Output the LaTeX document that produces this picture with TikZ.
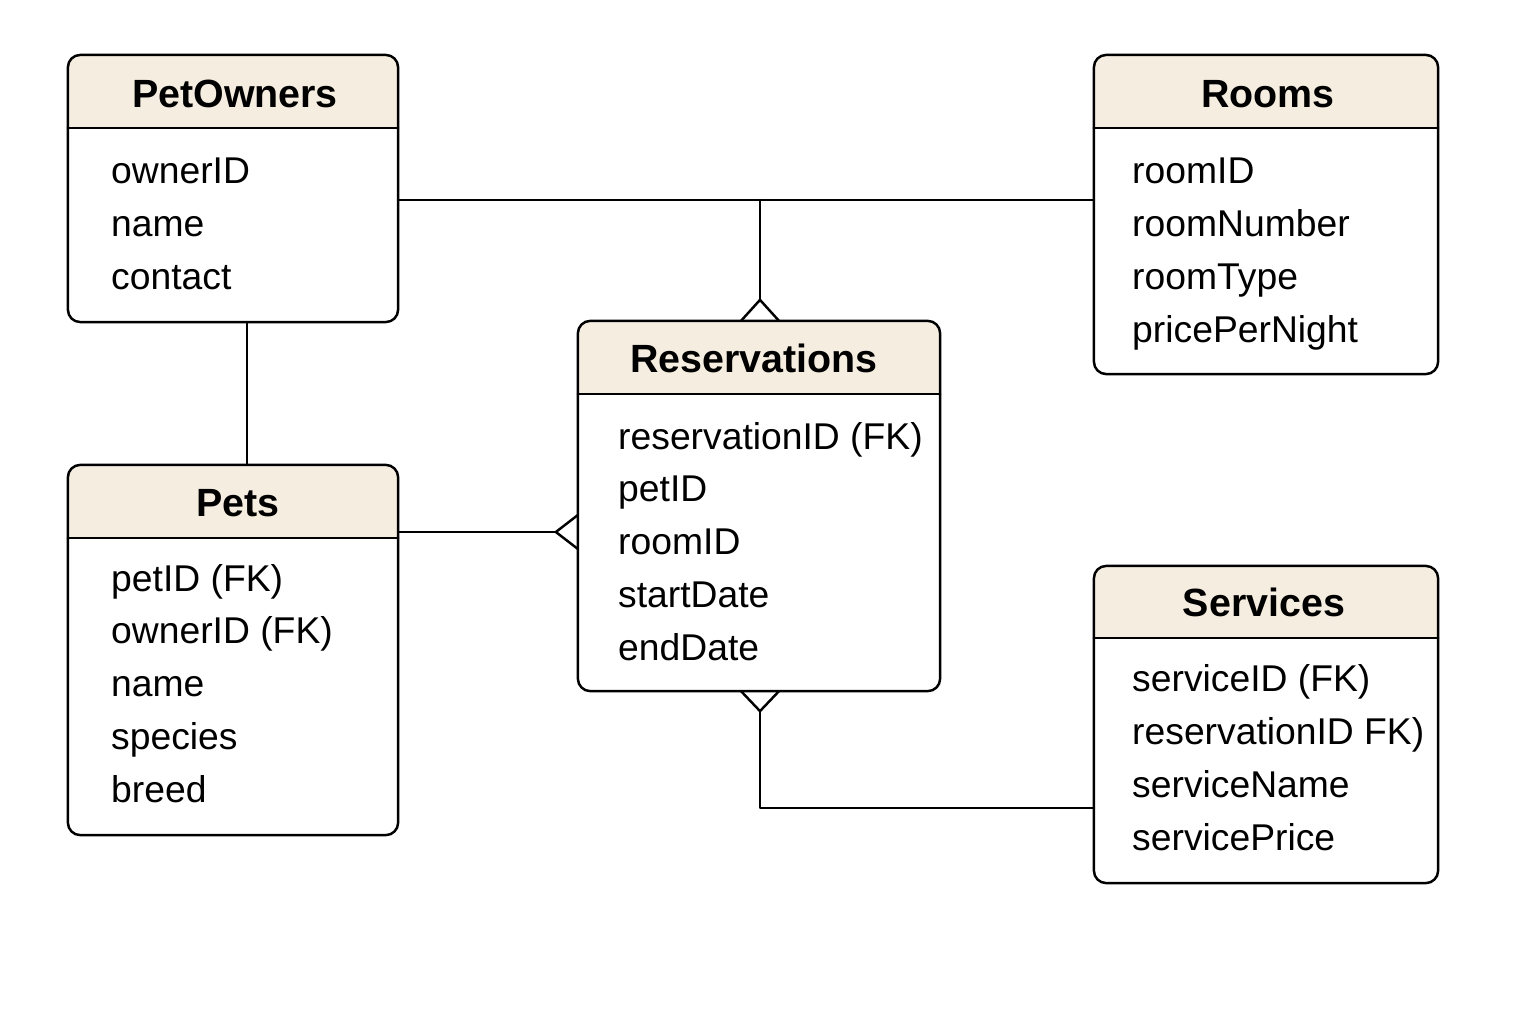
\documentclass[tikz,border=0pt]{standalone}
\usepackage{fontspec}
\setmainfont{Liberation Sans}
\definecolor{hdrcream}{RGB}{245,237,224}
\begin{document}
\begin{tikzpicture}[x=0.01cm, y=-0.01cm, line width=0.7pt, line join=round, line cap=round,
	tbl/.style={inner sep=0pt, outer sep=0pt},
	hdr/.style={inner sep=0pt, anchor=base, font=\fontsize{11.2pt}{13pt}\selectfont\bfseries},
	attr/.style={inner sep=0pt, anchor=base west, font=\fontsize{10.6pt}{12pt}\selectfont}]
	\useasboundingbox (0,0) rectangle (1536,1024);
	% tables
	\node[tbl, minimum width=3.30cm, minimum height=2.67cm] (own) at (233,188.5) {};
	\node[tbl, minimum width=3.44cm, minimum height=3.19cm] (room) at (1266,214.5) {};
	\node[tbl, minimum width=3.62cm, minimum height=3.70cm] (res) at (759,506) {};
	\node[tbl, minimum width=3.30cm, minimum height=3.70cm] (pet) at (233,650) {};
	\node[tbl, minimum width=3.44cm, minimum height=3.17cm] (svc) at (1266,724.5) {};
	\foreach \n/\hy in {own/128, room/128, res/394, pet/538, svc/638} {
		\begin{scope}
			\clip[rounded corners=3.5pt] (\n.south west) rectangle (\n.north east);
			\fill[hdrcream] (\n.north west) rectangle (\n.east |- 0,\hy);
		\end{scope}
		\draw[rounded corners=3.5pt] (\n.south west) rectangle (\n.north east);
		\draw (\n.west |- 0,\hy) -- (\n.east |- 0,\hy);
	}
	% headers
	\node[hdr] (own-h) at (235,107) {PetOwners};
	\node[hdr] (room-h) at (1268,107) {Rooms};
	\node[hdr] (res-h) at (754,372) {Reservations};
	\node[hdr] (pet-h) at (238,516) {Pets};
	\node[hdr] (svc-h) at (1264,616) {Services};
	% attributes
	\foreach \t [count=\i] in {ownerID, name, contact}
		\node[attr] (own-\i) at (110,{183+53*(\i-1)}) {\t};
	\foreach \t [count=\i] in {roomID, roomNumber, roomType, pricePerNight}
		\node[attr] (room-\i) at (1131,{183+53*(\i-1)}) {\t};
	\foreach \t [count=\i] in {reservationID (FK), petID, roomID, startDate, endDate}
		\node[attr] (res-\i) at (617,{449+52.75*(\i-1)}) {\t};
	\foreach \t [count=\i] in {petID (FK), ownerID (FK), name, species, breed}
		\node[attr] (pet-\i) at (110,{591+52.75*(\i-1)}) {\t};
	\foreach \t [count=\i] in {serviceID (FK), reservationID FK), serviceName, servicePrice}
		\node[attr] (svc-\i) at (1131,{691+53*(\i-1)}) {\t};
	% relationships
	\coordinate (j) at (760,200);
	\draw (own.east |- j) -- (room.west |- j);
	\draw (j) -- ([yshift=0.21cm]res.north -| j);
	\draw ([xshift=-0.19cm]res.north -| j) -- ([yshift=0.21cm]res.north -| j) -- ([xshift=0.19cm]res.north -| j);
	\draw (own.south -| 247,0) -- (pet.north -| 247,0);
	\coordinate (rl) at (res.west |- 0,532);
	\draw (pet.east |- rl) -- ([xshift=-0.22cm]rl);
	\draw ([yshift=0.17cm]rl) -- ([xshift=-0.22cm]rl) -- ([yshift=-0.17cm]rl);
	\coordinate (m) at (760,808);
	\draw ([yshift=-0.2cm]res.south -| m) -- (m) -- (svc.west |- m);
	\draw ([xshift=-0.19cm]res.south -| m) -- ([yshift=-0.2cm]res.south -| m) -- ([xshift=0.19cm]res.south -| m);
\end{tikzpicture}
\end{document}
